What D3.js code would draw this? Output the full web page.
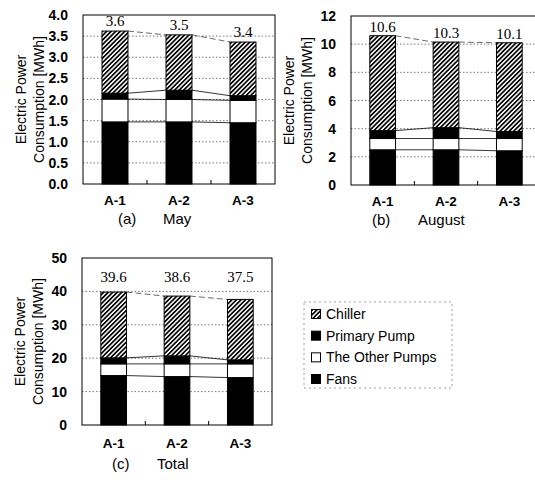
<!DOCTYPE html>
<html>
<head>
<meta charset="utf-8">
<script src="https://cdn.jsdelivr.net/npm/d3@7.9.0/dist/d3.min.js"></script>
<style>
  html, body { margin: 0; padding: 0; background: #fff; }
  svg { display: block; }
  .tick-lbl { font-family: "Liberation Sans", Arial, sans-serif; font-weight: bold; fill: #000; }
  .val { font-family: "Liberation Serif", "Times New Roman", serif; font-size: 15px; fill: #000; }
  .ytitle { font-family: "Liberation Sans", Arial, sans-serif; font-size: 14px; fill: #000; }
  .sub { font-family: "Liberation Sans", Arial, sans-serif; font-size: 15px; fill: #000; }
  .leg { font-family: "Liberation Sans", Arial, sans-serif; font-size: 14px; fill: #000; }
</style>
</head>
<body>
<svg id="chart" width="535" height="480"></svg>
<script>
// categories and stack components (bottom -> top)
const categories = ['A-1', 'A-2', 'A-3'];
const components = ['Fans', 'The Other Pumps', 'Primary Pump', 'Chiller'];
const legendOrder = ['Chiller', 'Primary Pump', 'The Other Pumps', 'Fans'];

// (a) May [MWh]
const mayFans = [1.47, 1.47, 1.45];
const mayOtherPumps = [0.54, 0.53, 0.53];
const mayPrimaryPump = [0.14, 0.22, 0.11];
const mayChiller = [1.47, 1.31, 1.27];
const mayTotalLabels = ['3.6', '3.5', '3.4'];
const mayTicks = [0, 0.5, 1.0, 1.5, 2.0, 2.5, 3.0, 3.5, 4.0];

// (b) August [MWh]
const augFans = [2.5, 2.5, 2.43];
const augOtherPumps = [0.8, 0.8, 0.87];
const augPrimaryPump = [0.56, 0.77, 0.5];
const augChiller = [6.74, 6.08, 6.3];
const augTotalLabels = ['10.6', '10.3', '10.1'];
const augTicks = [0, 2, 4, 6, 8, 10, 12];

// (c) Total [MWh]
const totFans = [14.8, 14.5, 14.2];
const totOtherPumps = [3.5, 3.8, 4.1];
const totPrimaryPump = [1.8, 2.4, 1.2];
const totChiller = [19.7, 17.9, 18.1];
const totTotalLabels = ['39.6', '38.6', '37.5'];
const totTicks = [0, 10, 20, 30, 40, 50];

const svg = d3.select('#chart');
svg.append('rect').attr('width', 535).attr('height', 480).attr('fill', '#fff');

// hatch for the chiller
const defs = svg.append('defs');
const pat = defs.append('pattern')
  .attr('id', 'hatch')
  .attr('patternUnits', 'userSpaceOnUse')
  .attr('width', 3.2).attr('height', 3.2)
  .attr('patternTransform', 'rotate(45)');
pat.append('rect').attr('width', 3.2).attr('height', 3.2).attr('fill', '#fff');
pat.append('line').attr('x1', 1.6).attr('y1', 0).attr('x2', 1.6).attr('y2', 3.2)
  .attr('stroke', '#000').attr('stroke-width', 1.7);

const fills = {
  'Fans': '#000',
  'The Other Pumps': '#fff',
  'Primary Pump': '#000',
  'Chiller': 'url(#hatch)'
};

function rows(fans, other, primary, chiller) {
  return categories.map((c, i) => ({
    cat: c,
    'Fans': fans[i],
    'The Other Pumps': other[i],
    'Primary Pump': primary[i],
    'Chiller': chiller[i]
  }));
}

const panels = [
  { tag: '(a)', name: 'May', data: rows(mayFans, mayOtherPumps, mayPrimaryPump, mayChiller),
    labels: mayTotalLabels, ticks: mayTicks, fmt: d3.format('.1f'),
    left: 83, right: 275, top: 15, bottom: 184, lblOff: 5, lblY: null, tickOff: 21, subOff: 40, tagX: 35, nameX: 80 },
  { tag: '(b)', name: 'August', data: rows(augFans, augOtherPumps, augPrimaryPump, augChiller),
    labels: augTotalLabels, ticks: augTicks, fmt: d3.format('d'),
    left: 351, right: 541, top: 16, bottom: 185, lblOff: 4, lblY: null, tickOff: 21, subOff: 40, tagX: 21, nameX: 67 },
  { tag: '(c)', name: 'Total', data: rows(totFans, totOtherPumps, totPrimaryPump, totChiller),
    labels: totTotalLabels, ticks: totTicks, fmt: d3.format('d'),
    left: 82, right: 272, top: 258, bottom: 425, lblOff: 0, lblY: 282, tickOff: 23, subOff: 44, tagX: 30, nameX: 75 }
];

panels.forEach((p) => {
  const g = svg.append('g');
  const x = d3.scaleBand().domain(categories).range([p.left, p.right])
    .paddingInner(0.594).paddingOuter(0.297);
  const y = d3.scaleLinear().domain([0, d3.max(p.ticks)]).range([p.bottom, p.top]);

  // dotted grid
  g.selectAll('.grid').data(p.ticks.slice(1, -1)).join('line')
    .attr('x1', p.left).attr('x2', p.right)
    .attr('y1', (d) => y(d)).attr('y2', (d) => y(d))
    .attr('stroke', '#555').attr('stroke-width', 0.8)
    .attr('stroke-dasharray', '1.5,2');

  const series = d3.stack().keys(components)(p.data);

  // lines joining the segment tops of neighbouring bars
  series.forEach((s) => {
    const last = s.key === 'Chiller';
    for (let i = 0; i < categories.length - 1; i++) {
      g.append('line')
        .attr('x1', x(categories[i]) + x.bandwidth())
        .attr('x2', x(categories[i + 1]))
        .attr('y1', y(s[i][1])).attr('y2', y(s[i + 1][1]))
        .attr('stroke', last ? '#444' : '#000')
        .attr('stroke-width', 0.8)
        .attr('stroke-dasharray', last ? '6,3' : null);
    }
  });

  // stacked bars
  g.selectAll('.layer').data(series).join('g')
    .attr('fill', (s) => fills[s.key])
    .selectAll('rect').data((s) => s).join('rect')
    .attr('x', (d) => x(d.data.cat))
    .attr('width', x.bandwidth())
    .attr('y', (d) => y(d[1]))
    .attr('height', (d) => y(d[0]) - y(d[1]))
    .attr('stroke', '#000').attr('stroke-width', 1);

  // frame
  g.append('rect')
    .attr('x', p.left).attr('y', p.top)
    .attr('width', p.right - p.left).attr('height', p.bottom - p.top)
    .attr('fill', 'none').attr('stroke', '#000').attr('stroke-width', 1);

  // small ticks between categories on the bottom axis
  for (let i = 0; i < categories.length - 1; i++) {
    const mx = (x(categories[i]) + x.bandwidth() + x(categories[i + 1])) / 2;
    g.append('line').attr('x1', mx).attr('x2', mx)
      .attr('y1', p.bottom).attr('y2', p.bottom - 4)
      .attr('stroke', '#000').attr('stroke-width', 1);
  }

  // y tick labels
  g.selectAll('.ytick').data(p.ticks).join('text')
    .attr('class', 'tick-lbl')
    .attr('x', p.left - 15)
    .attr('y', (d) => y(d) + 5)
    .attr('text-anchor', 'end')
    .style('font-size', '14px')
    .text((d) => p.fmt(d));

  // x tick labels
  g.selectAll('.xtick').data(categories).join('text')
    .attr('class', 'tick-lbl')
    .attr('x', (d) => x(d) + x.bandwidth() / 2)
    .attr('y', p.bottom + p.tickOff)
    .attr('text-anchor', 'middle')
    .style('font-size', '13.5px')
    .text((d) => d);

  // total labels
  const totals = p.data.map((d) => d3.sum(components, (k) => d[k]));
  g.selectAll('.val').data(categories).join('text')
    .attr('class', 'val')
    .attr('x', (d) => x(d) + x.bandwidth() / 2)
    .attr('y', (d, i) => p.lblY !== null ? p.lblY : y(totals[i]) - p.lblOff)
    .attr('text-anchor', 'middle')
    .text((d, i) => p.labels[i]);

  // y axis title (two lines)
  const cy = (p.top + p.bottom) / 2;
  [['Electric Power', -62], ['Consumption [MWh]', -44]].forEach(([t, dx]) => {
    g.append('text')
      .attr('class', 'ytitle')
      .attr('transform', `translate(${p.left + dx},${cy}) rotate(-90)`)
      .attr('text-anchor', 'middle')
      .attr('dy', '0.35em')
      .text(t);
  });

  // sub caption
  g.append('text').attr('class', 'sub')
    .attr('x', p.left + p.tagX).attr('y', p.bottom + p.subOff).text(p.tag);
  g.append('text').attr('class', 'sub')
    .attr('x', p.left + p.nameX).attr('y', p.bottom + p.subOff).text(p.name);
});

// legend
const leg = svg.append('g');
leg.append('rect')
  .attr('x', 304).attr('y', 302).attr('width', 148).attr('height', 86)
  .attr('fill', 'none').attr('stroke', '#888').attr('stroke-width', 0.8)
  .attr('stroke-dasharray', '2,3');
const ly = d3.scalePoint().domain(legendOrder).range([314, 379]);
legendOrder.forEach((k) => {
  leg.append('rect')
    .attr('x', 311.5).attr('y', ly(k) - 4.5).attr('width', 9).attr('height', 9)
    .attr('fill', fills[k]).attr('stroke', '#000').attr('stroke-width', 1);
  leg.append('text').attr('class', 'leg')
    .attr('x', 326).attr('y', ly(k) + 5).text(k);
});
</script>
</body>
</html>
